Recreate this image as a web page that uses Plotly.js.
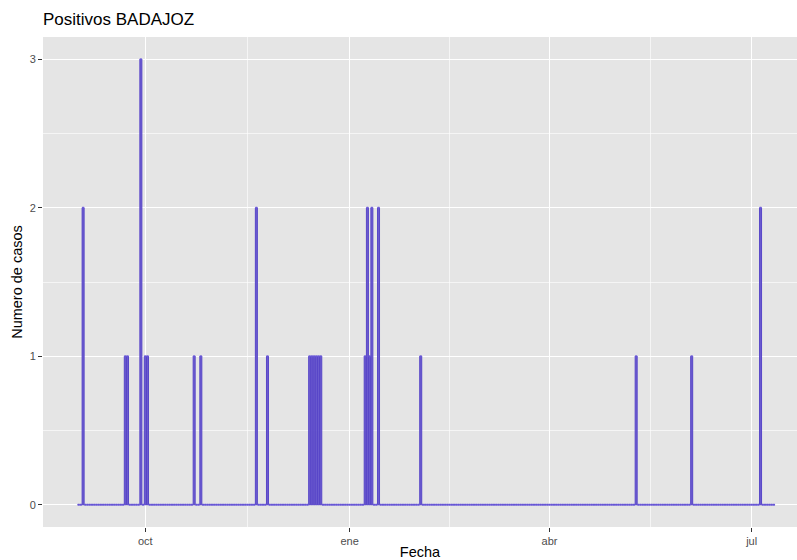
<!DOCTYPE html>
<html>
<head>
<meta charset="utf-8">
<script src="https://cdn.plot.ly/plotly-3.0.1.min.js"></script>
<style>
  html, body { margin: 0; padding: 0; background: #ffffff; }
  #chart { width: 797px; height: 560px; }
</style>
</head>
<body>
<div id="chart"></div>
<script>
// ---- Data ----
const fechaInicio = '2020-09-01';
const fechaFin = '2021-07-11';

const fechasPositivos = [
  '2020-09-03', '2020-09-22', '2020-09-23', '2020-09-29', '2020-10-01', '2020-10-02',
  '2020-10-23', '2020-10-26', '2020-11-20', '2020-11-25',
  '2020-12-14', '2020-12-15', '2020-12-16', '2020-12-17', '2020-12-18', '2020-12-19',
  '2021-01-08', '2021-01-09', '2021-01-10', '2021-01-11', '2021-01-14',
  '2021-02-02', '2021-05-10', '2021-06-04', '2021-07-05'
];
const casosPositivos = [
  2, 1, 1, 3, 1, 1,
  1, 1, 2, 1,
  1, 1, 1, 1, 1, 1,
  1, 2, 1, 2, 2,
  1, 1, 1, 2
];

const xTickVals = ['2020-10-01', '2021-01-01', '2021-04-01', '2021-07-01'];
const xTickText = ['oct', 'ene', 'abr', 'jul'];
const xMinorVals = ['2020-11-16', '2021-02-15', '2021-05-16 12:00'];
const yTickVals = [0, 1, 2, 3];
const yMinorVals = [0.5, 1.5, 2.5];

// ---- Build the full daily series (days without a positive are 0) ----
const lookup = {};
fechasPositivos.forEach((f, i) => { lookup[f] = casosPositivos[i]; });
const dias = [];
const casosDiarios = [];
const DAY = 86400000;
for (let t = Date.parse(fechaInicio + 'T00:00:00Z'); t <= Date.parse(fechaFin + 'T00:00:00Z'); t += DAY) {
  const d = new Date(t).toISOString().slice(0, 10);
  dias.push(d);
  casosDiarios.push(lookup[d] !== undefined ? lookup[d] : 0);
}

const fontFam = '"Liberation Sans", Arial, Helvetica, sans-serif';

const traces = [
  {
    type: 'bar',
    x: dias,
    y: casosDiarios,
    width: 0.9 * DAY,
    marker: {
      color: 'rgba(98,80,205,0.92)',
      line: { color: 'rgb(88,70,200)', width: 1 }
    },
    hoverinfo: 'x+y',
    showlegend: false
  },
  {
    type: 'scatter',
    mode: 'markers',
    x: dias,
    y: casosDiarios,
    marker: { color: 'rgba(106,90,220,0.6)', size: 2.6, line: { width: 0 } },
    hoverinfo: 'skip',
    showlegend: false
  }
];

const layout = {
  width: 797,
  height: 560,
  margin: { l: 43, r: 0, t: 37, b: 33 },
  paper_bgcolor: '#ffffff',
  plot_bgcolor: '#E5E5E5',
  font: { family: fontFam, color: '#4D4D4D' },
  title: {
    text: 'Positivos BADAJOZ',
    font: { family: fontFam, size: 17, color: '#000000' },
    xref: 'paper', x: 0, xanchor: 'left',
    yref: 'container', y: 1 - 19 / 560, yanchor: 'middle'
  },
  xaxis: {
    type: 'date',
    range: ['2020-08-15 22:34', '2021-07-21 09:50'],
    tickmode: 'array',
    tickvals: xTickVals,
    ticktext: xTickText,
    ticks: 'outside',
    ticklen: 4,
    tickwidth: 1,
    tickcolor: '#333333',
    tickfont: { family: fontFam, size: 11, color: '#4D4D4D' },
    showgrid: true,
    gridcolor: '#FFFFFF',
    gridwidth: 1.3,
    zeroline: false,
    showline: false,
    minor: {
      tickmode: 'array',
      tickvals: xMinorVals,
      showgrid: true,
      gridcolor: '#FFFFFF',
      gridwidth: 0.6,
      ticks: ''
    },
    title: {
      text: 'Fecha',
      font: { family: fontFam, size: 14.5, color: '#000000' },
      standoff: 4
    },
    fixedrange: true
  },
  yaxis: {
    range: [-0.15, 3.15],
    tickmode: 'array',
    tickvals: yTickVals,
    ticktext: yTickVals.map(String),
    ticks: 'outside',
    ticklen: 4,
    tickwidth: 1,
    tickcolor: '#333333',
    tickfont: { family: fontFam, size: 11, color: '#4D4D4D' },
    showgrid: true,
    gridcolor: '#FFFFFF',
    gridwidth: 1.3,
    zeroline: false,
    showline: false,
    minor: {
      tickmode: 'array',
      tickvals: yMinorVals,
      showgrid: true,
      gridcolor: '#FFFFFF',
      gridwidth: 0.6,
      ticks: ''
    },
    title: {
      text: 'Numero de casos',
      font: { family: fontFam, size: 14.5, color: '#000000' },
      standoff: 3
    },
    fixedrange: true
  },
  bargap: 0
};

Plotly.newPlot('chart', traces, layout, { displayModeBar: false, staticPlot: true });
</script>
</body>
</html>
